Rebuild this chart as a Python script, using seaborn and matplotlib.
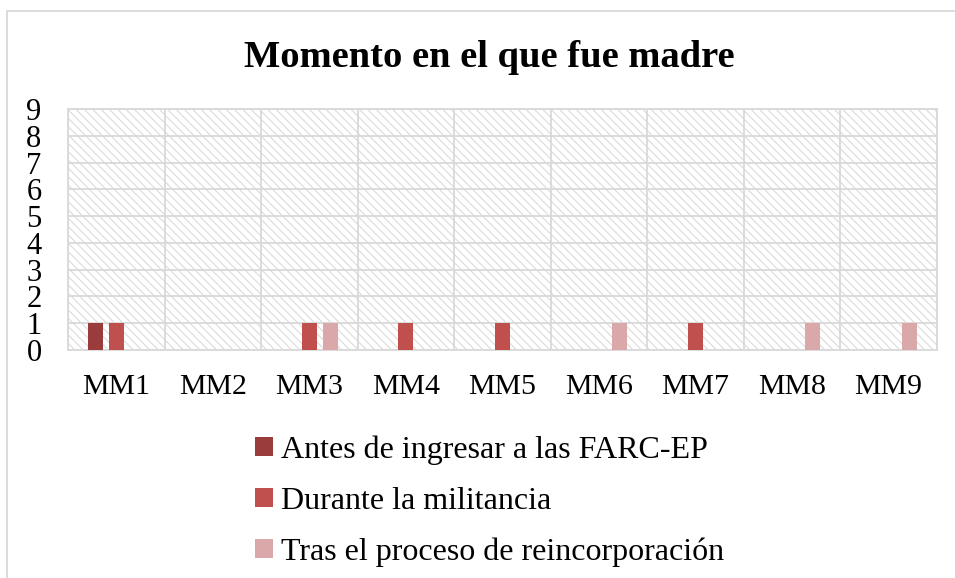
import numpy as np
import pandas as pd
import seaborn as sns
import matplotlib.pyplot as plt
from matplotlib.patches import Rectangle
from matplotlib.lines import Line2D

sns.set_theme(style="white")
plt.rcParams["font.family"] = ["Liberation Serif", "DejaVu Serif"]
plt.rcParams["text.color"] = "black"
plt.rcParams["hatch.linewidth"] = 0.75

# ---------------------------------------------------------------------------
# data
# ---------------------------------------------------------------------------
casos = ["MM1", "MM2", "MM3", "MM4", "MM5", "MM6", "MM7", "MM8", "MM9"]
momentos = [
    "Antes de ingresar a las FARC-EP",
    "Durante la militancia",
    "Tras el proceso de reincorporación",
]
antes = [1, 0, 0, 0, 0, 0, 0, 0, 0]
durante = [1, 0, 1, 1, 1, 0, 1, 0, 0]
tras = [0, 0, 1, 0, 0, 1, 0, 1, 1]
y_ticks = list(range(0, 10))

colores = ["#9B3C3C", "#C0504D", "#DAA8A9"]
GRID = "#D9D9D9"

df = pd.DataFrame({
    "caso": casos * 3,
    "momento": np.repeat(momentos, len(casos)),
    "valor": antes + durante + tras,
})

# ---------------------------------------------------------------------------
# figure
# ---------------------------------------------------------------------------
fig = plt.figure(figsize=(9.55, 5.78), dpi=100)
ax = fig.add_axes([0.0712, 0.3945, 0.9098, 0.4169])

# hatched background of the plot area
ax.add_patch(Rectangle((0, 0), 1, 1, transform=ax.transAxes, facecolor="white",
                       edgecolor=GRID, linewidth=0, hatch="\\\\\\\\", zorder=0))

sns.barplot(data=df, x="caso", y="valor", hue="momento", palette=colores,
            saturation=1, width=0.65, gap=0.28, linewidth=0, ax=ax, zorder=3)

handles, labels = ax.get_legend_handles_labels()
ax.get_legend().remove()

ax.set_xlim(-0.5, len(casos) - 0.5)
ax.set_ylim(0, 9)
ax.set_yticks(y_ticks)
ax.set_xlabel("")
ax.set_ylabel("")

# gridlines: horizontal at every unit, vertical at category boundaries
ax.set_xticks(np.arange(-0.5, len(casos), 1), minor=True)
ax.grid(True, which="major", axis="y", color=GRID, linewidth=1.3, zorder=1)
ax.grid(True, which="minor", axis="x", color=GRID, linewidth=1.3, zorder=1)
ax.set_axisbelow(True)
for s in ax.spines.values():
    s.set_color(GRID)
    s.set_linewidth(1.3)

ax.tick_params(axis="both", which="both", length=0, labelsize=21.5,
               colors="black", labelcolor="black")
ax.tick_params(axis="y", labelsize=22, pad=19)
ax.tick_params(axis="x", pad=17)

fig.suptitle("Momento en el que fue madre", x=0.512, y=0.9,
             fontsize=27.7, fontweight="bold", va="center", color="black")

fig.legend(handles, labels, loc="center left", bbox_to_anchor=(0.267, 0.133),
           frameon=False, fontsize=23, handlelength=0.55, handleheight=0.55,
           handletextpad=0.25, labelspacing=0.68, borderpad=0, borderaxespad=0,
           labelcolor="black")

# outer chart border (top and left only)
fig.add_artist(Line2D([7 / 955, 1], [1 - 11 / 578] * 2, color=GRID, lw=1.3,
                      transform=fig.transFigure))
fig.add_artist(Line2D([7 / 955] * 2, [0, 1 - 11 / 578], color=GRID, lw=1.3,
                      transform=fig.transFigure))

fig.savefig("out.png", dpi=100)
